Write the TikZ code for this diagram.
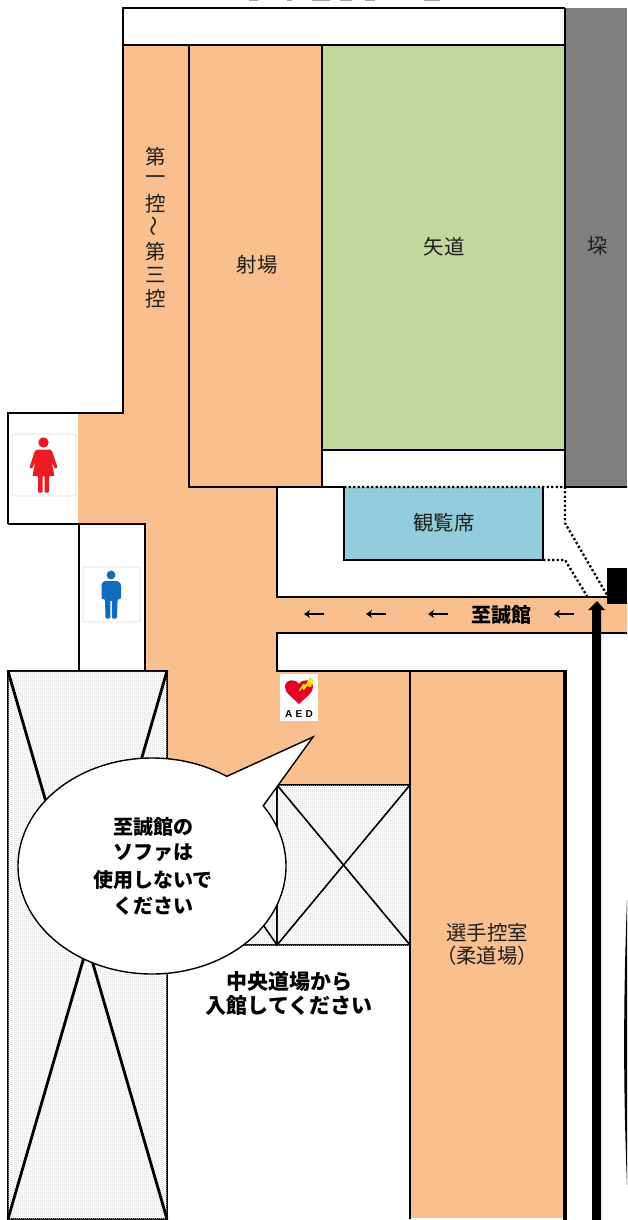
\documentclass[tikz,border=0pt]{standalone}
\usepackage{fontspec}
\setmainfont{Noto Sans CJK JP}
\newfontfamily\jp{Noto Sans CJK JP}
\newfontfamily\lat{Liberation Sans}
\usetikzlibrary{patterns,arrows.meta}
\definecolor{peach}{HTML}{F9BF8F}
\definecolor{leaf}{HTML}{C3D69B}
\definecolor{aqua}{HTML}{92CDDC}
\definecolor{stone}{HTML}{7F7F7F}
\definecolor{wred}{HTML}{ED1C24}
\definecolor{mblue}{HTML}{0F6CBD}
\definecolor{aedred}{HTML}{E60026}
\definecolor{hatch}{HTML}{B4B4B4}
\pgfdeclarepatternformonly{finedots}{\pgfpointorigin}{\pgfqpoint{2pt}{2pt}}{\pgfqpoint{2pt}{2pt}}{%
  \pgfpathrectangle{\pgfqpoint{0pt}{0pt}}{\pgfqpoint{1pt}{1pt}}%
  \pgfpathrectangle{\pgfqpoint{1pt}{1pt}}{\pgfqpoint{1pt}{1pt}}%
  \pgfusepath{fill}}
\tikzset{
  wall/.style={draw=black,line width=2.8pt,line cap=butt,line join=miter},
  thinwall/.style={draw=black,line width=1.6pt},
  dotline/.style={draw=black,line width=2.3pt,dash pattern=on 2.3pt off 2.2pt},
  hatchbox/.style={fill=white,postaction={pattern=finedots,pattern color=hatch!55}},
  label/.style={font=\jp\fontsize{20.4}{20.4}\selectfont,text=black!88,inner sep=0pt,anchor=center},
  boldlabel/.style={font=\jp\bfseries\fontsize{20}{20}\selectfont,text=black,inner sep=0pt,anchor=center},
  iconbox/.style={fill=white,draw=black!12,line width=.8pt,rounded corners=1.5pt},
  miniarrow/.style={draw=black,line width=2pt,-{Stealth[length=6pt,width=8pt]}},
  bubble/.style={draw=black,line width=1.4pt,fill=white,line join=miter},
}
\begin{document}
\begin{tikzpicture}[x=1pt,y=-1pt]
\useasboundingbox (0,0) rectangle (627,1220);
\fill[white] (0,0) rectangle (627,1220);
% clipped line of text at the very top
\foreach \a/\b in {249/258,287/292,312/330,340/352,365/375,424/440}
  \fill[gray!70] (\a,0) rectangle (\b,1.2);
% peach floor
\fill[peach] (123,45)--(189,45)--(189,487)--(277,487)--(277,597)--(627,597)--(627,633)--(277,633)--(277,671)--(410,671)--(410,785)--(277,785)--(277,945)--(167,945)--(167,671)--(145,671)--(145,524)--(78,524)--(78,413)--(123,413)--cycle;
% filled rooms
\fill[stone] (565,8) rectangle (627,487);
\fill[leaf] (322,45) rectangle (565,450);
\fill[peach] (189,45) rectangle (322,487);
\fill[aqua] (344,487) rectangle (543,560);
\fill[peach] (410,671) rectangle (565,1218);
% walls, top part
\draw[wall] (8,524)--(8,413)--(123,413)--(123,8)--(565,8);
\draw[wall] (123,45)--(565,45);
\draw[wall] (189,45)--(189,487)--(344,487);
\draw[wall] (322,45)--(322,487);
\draw[wall] (322,450)--(565,450);
\draw[wall] (565,8)--(565,487)--(627,487);
% viewing seats
\draw[wall] (344,487)--(344,561);
\draw[wall] (543,487)--(543,561);
\draw[wall] (343,560)--(544,560);
\draw[dotline] (344,487)--(565,487)--(565,523)--(607,595);
\draw[dotline] (543,560)--(565,560)--(587,596);
% corridor walls
\draw[wall] (277,487)--(277,597)--(608,597);
\draw[wall] (627,633)--(277,633)--(277,671)--(565,671);
% toilet walls
\draw[wall] (8,524)--(145,524)--(145,671);
\draw[wall] (79,524)--(79,671);
% choice room walls
\draw[thinwall] (410,671)--(410,1219);
\draw[draw=black,line width=4pt] (565,670)--(565,1220);
% sofa
\draw[wall,hatchbox] (8,671) rectangle (167,1219);
\draw[wall] (8,671)--(167,1219);
\draw[wall] (167,671)--(8,1219);
% two boxes in the middle
\draw[wall,hatchbox] (167,785) rectangle (277,945);
\draw[thinwall] (167,785)--(277,945);
\draw[thinwall] (277,785)--(167,945);
\draw[wall,hatchbox] (277,785) rectangle (410,945);
\draw[thinwall] (277,785)--(410,945);
\draw[thinwall] (410,785)--(277,945);
% entrance marker and arrow
\fill[black] (607,568) rectangle (627,604);
\fill[black] (592,1220)--(592,610)--(588,610)--(597,601)--(605,610)--(601,610)--(601,1220)--cycle;
\fill[black] (627,900) .. controls (623.2,1000) and (623.2,1090) .. (627,1185) -- cycle;
% small arrows
\coordinate (a1s) at (324,614); \coordinate (a1e) at (304,614);
\coordinate (a2s) at (386,614); \coordinate (a2e) at (366,614);
\coordinate (a3s) at (448,614); \coordinate (a3e) at (428,614);
\coordinate (a4s) at (574,614); \coordinate (a4e) at (554,614);
\draw[miniarrow] (a1s)--(a1e);
\draw[miniarrow] (a2s)--(a2e);
\draw[miniarrow] (a3s)--(a3e);
\draw[miniarrow] (a4s)--(a4e);
% women's icon
\draw[iconbox] (12,434) rectangle (76,496);
\fill[wred] (43.5,442.5) circle (5.2);
\fill[wred,rounded corners=.8pt] (36.5,449.5)--(50.5,449.5)--(52.5,452)--(57.5,467.5)--(55,468.8)--(51.8,462)--(54.5,476)--(49,476)--(49,492.5)--(44.6,492.5)--(44.6,476)--(42.6,476)--(42.6,492.5)--(38,492.5)--(38,476)--(32.5,476)--(35.2,462)--(32,468.8)--(29.5,467.5)--(34.5,452)--cycle;
% men's icon
\draw[iconbox] (83,567) rectangle (140,622);
\fill[mblue] (111,575) circle (4.4);
\fill[mblue,rounded corners=1.2pt] (104,581)--(118,581)--(121,584)--(121,599)--(117.6,599)--(117,618.5)--(111.8,618.5)--(111.8,600)--(110.4,600)--(110.4,618.5)--(105.5,618.5)--(105,599)--(101.5,599)--(101.5,584)--cycle;
% AED icon
\fill[white] (280,674) rectangle (318,721);
\fill[aedred] (299,704) .. controls (292,697) and (285,693) .. (285,687) .. controls (285,679) and (295,678) .. (299,684) .. controls (303,678) and (313,679) .. (313,687) .. controls (313,693) and (306,697) .. (299,704) -- cycle;
\fill[yellow!90!orange] (299,690)--(303,684)--(306,684.5)--(310,677)--(313,680)--(311,687)--(307,686)--(304,690)--(302,688)--(300,691)--cycle;
\node[inner sep=0pt,font=\lat\bfseries\fontsize{10}{10}\selectfont] (aed) at (299,714.5) {A\,\,E\,\,D};
% speech bubble
\draw[bubble] plot[domain=-56.1:-393.9,samples=240] ({152+134*cos(\x)},{866+108*sin(\x)}) -- (313,737) -- cycle;
% labels
\node[label] (v1) at (156,157) {第};
\node[label] (v2) at (156,180) {一};
\node[label] (v3) at (156,204) {控};
\node[label] (v4) at (156,226) {\rotatebox{90}{～}};
\node[label] (v5) at (156,252) {第};
\node[label] (v6) at (156,275) {三};
\node[label] (v7) at (156,299) {控};
\node[label] (shajo) at (257,265) {射場};
\node[label] (yamichi) at (444,247) {矢道};
\node[label] (azuchi) at (598,246) {垜};
\node[label] (seats) at (444,523) {観覧席};
\node[label] (ctrl1) at (487,933) {選手控室};
\node[label] (ctrl2) at (487,956) {（柔道場）};
\node[boldlabel] (seikan) at (501,615) {至誠館};
\node[boldlabel] (b1) at (153,827) {至誠館の};
\node[boldlabel] (b2) at (153,853) {ソファは};
\node[boldlabel] (b3) at (153,880) {使用しないで};
\node[boldlabel] (b4) at (153,906) {ください};
\node[boldlabel,font=\jp\bfseries\fontsize{21}{21}\selectfont] (c1) at (289,982) {中央道場から};
\node[boldlabel,font=\jp\bfseries\fontsize{21}{21}\selectfont] (c2) at (289,1005) {入館してください};
\end{tikzpicture}
\end{document}
